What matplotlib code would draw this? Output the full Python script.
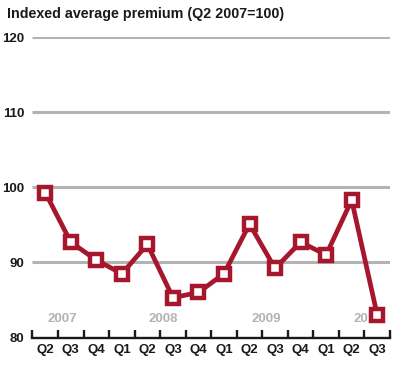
import matplotlib
matplotlib.use("Agg")
import matplotlib.pyplot as plt

quarters = ["Q2", "Q3", "Q4", "Q1", "Q2", "Q3", "Q4", "Q1", "Q2", "Q3", "Q4", "Q1", "Q2", "Q3"]
values = [99.3, 92.7, 90.3, 88.5, 92.4, 85.3, 86.0, 88.5, 95.1, 89.2, 92.7, 91.0, 98.3, 83.0]
years = ["2007", "2008", "2009", "2010"]
year_pos = [0.65, 4.6, 8.65, 12.65]
yticks = [80, 90, 100, 110, 120]

plt.rcParams['font.family'] = ['Liberation Sans', 'DejaVu Sans']
red = "#a6172d"
grey = "#b3b3b3"

fig = plt.figure(figsize=(4.03, 3.72), dpi=100)
ax = fig.add_axes([0.0806, 0.0927, 0.8871, 0.8078])
ax.set_xlim(-0.5, len(quarters) - 0.5)
ax.set_ylim(80, 120)

for y in yticks[1:]:
    ax.axhline(y, color=grey, lw=2.2, zorder=1, solid_capstyle='butt')

x = list(range(len(quarters)))
for xp, yr in zip(year_pos, years):
    ax.text(xp, 82.4, yr, color=grey, fontsize=9.5, fontweight='bold', ha='center', va='center', zorder=2)

ax.plot(x, values, color=red, lw=3.4, zorder=3, solid_joinstyle='miter')
ax.plot(x, values, ls='none', marker='s', ms=8.5, mfc='white', mec=red, mew=3.2, zorder=4)

for s in ['top', 'right', 'left']:
    ax.spines[s].set_visible(False)
ax.spines['bottom'].set_linewidth(1.7)
ax.spines['bottom'].set_color('#1a1a1a')

ax.set_xticks([i - 0.5 for i in range(len(quarters) + 1)])
ax.set_xticklabels([])
ax.set_xticks(x, minor=True)
ax.set_xticklabels(quarters, minor=True, fontsize=9.5, fontweight='bold', color='#1a1a1a')
ax.tick_params(axis='x', which='major', direction='in', length=5.5, width=1.7, color='#1a1a1a')
ax.tick_params(axis='x', which='minor', length=0, pad=5)

ax.set_yticks(yticks)
ax.set_yticklabels([str(v) for v in yticks], fontsize=9.5, fontweight='bold', color='#1a1a1a')
ax.tick_params(axis='y', length=0, pad=6)

fig.text(0.017, 0.962, "Indexed average premium (Q2 2007=100)", fontsize=10.3, fontweight='bold',
         color='#1a1a1a', ha='left', va='center')

fig.savefig("out.png", dpi=100)
